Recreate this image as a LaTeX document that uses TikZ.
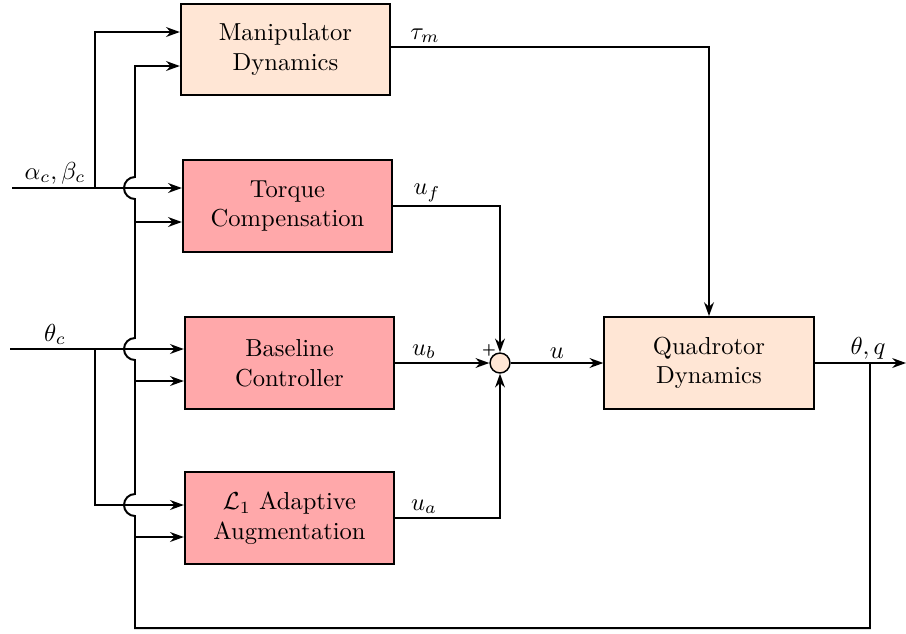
\documentclass[tikz,border=0pt]{standalone}
\usetikzlibrary{arrows.meta}
\definecolor{peach}{RGB}{255,230,213}
\definecolor{rose}{RGB}{255,168,170}
\begin{document}
\begin{tikzpicture}[x=0.407pt,y=0.407pt,
  blk/.style={draw,line width=0.8pt,minimum width=85.2pt,minimum height=37.4pt,align=center,inner sep=0pt},
  plant/.style={blk,fill=peach},
  ctrl/.style={blk,fill=rose},
  wire/.style={line width=0.8pt},
  arr/.style={wire,-{Stealth[length=5.6pt,width=4pt]}},
  lbl/.style={inner sep=1.5pt,anchor=south},
  hop/.style={start angle=270,end angle=90,radius=4.48pt}]
\useasboundingbox (0,0) rectangle (906,-633);

% blocks
\node[plant] (man)  at (285.5,-49.5) {Manipulator\\Dynamics};
\node[ctrl]  (tor)  at (287.5,-206)  {Torque\\Compensation};
\node[ctrl]  (base) at (289.5,-363)  {Baseline\\Controller};
\node[ctrl]  (lone) at (289.5,-518)  {$\mathcal{L}_1$ Adaptive\\Augmentation};
\node[plant] (quad) at (709,-363)    {Quadrotor\\Dynamics};
\node[draw,circle,fill=peach,line width=0.6pt,minimum size=8.1pt,inner sep=0pt] (sum) at (500,-363) {};
\node[font=\tiny\bfseries,inner sep=0pt] at (489,-350) {+};

% reference inputs
\coordinate (ain) at (12,-188);
\coordinate (asplit) at (95,-188);
\coordinate (atop) at (95,-32);
\coordinate (tin) at (10,-349);
\coordinate (tsplit) at (95,-349);
\coordinate (tbot) at (95,-505);
\draw[arr] (ain) -- (tor.west |- ain);
\draw[arr] (asplit) -- (atop) -- (man.west |- atop);
\draw[arr] (tin) -- (base.west |- tin);
\draw[arr] (tsplit) -- (tbot) -- (lone.west |- tbot);
\node[lbl] at (55,-188) {$\alpha_c,\beta_c$};
\node[lbl] at (55,-349) {$\theta_c$};

% control signals
\coordinate (tauout) at (391,-47);
\draw[arr] (tauout) -| (quad.north);
\draw[arr] (tor.east) -| (sum.north);
\draw[arr] (base.east) -- (sum.west);
\draw[arr] (lone.east) -| (sum.south);
\draw[arr] (sum.east) -- (quad.west);
\node[lbl] at (425,-47) {$\tau_m$};
\node[lbl] at (427,-206) {$u_f$};
\node[lbl] at (424,-363) {$u_b$};
\node[lbl] at (424,-518) {$u_a$};
\node[lbl] at (557,-363) {$u$};

% output and state feedback
\coordinate (out) at (906,-363);
\coordinate (fb) at (870,-363);
\coordinate (fbr) at (870,-628);
\coordinate (fbl) at (135,-628);
\coordinate (fbtop) at (135,-66);
\coordinate (b1) at (135,-222);
\coordinate (b2) at (135,-381);
\coordinate (b3) at (135,-537);
\draw[arr] (quad.east) -- (out);
\node[lbl] at (868,-363) {$\theta,q$};
\draw[arr] (fb) -- (fbr) -- (fbl) -- (135,-516) arc[hop] -- (135,-360) arc[hop]
  -- (135,-199) arc[hop] -- (fbtop) -- (man.west |- fbtop);
\draw[arr] (b1) -- (tor.west |- b1);
\draw[arr] (b2) -- (base.west |- b2);
\draw[arr] (b3) -- (lone.west |- b3);
\end{tikzpicture}
\end{document}
